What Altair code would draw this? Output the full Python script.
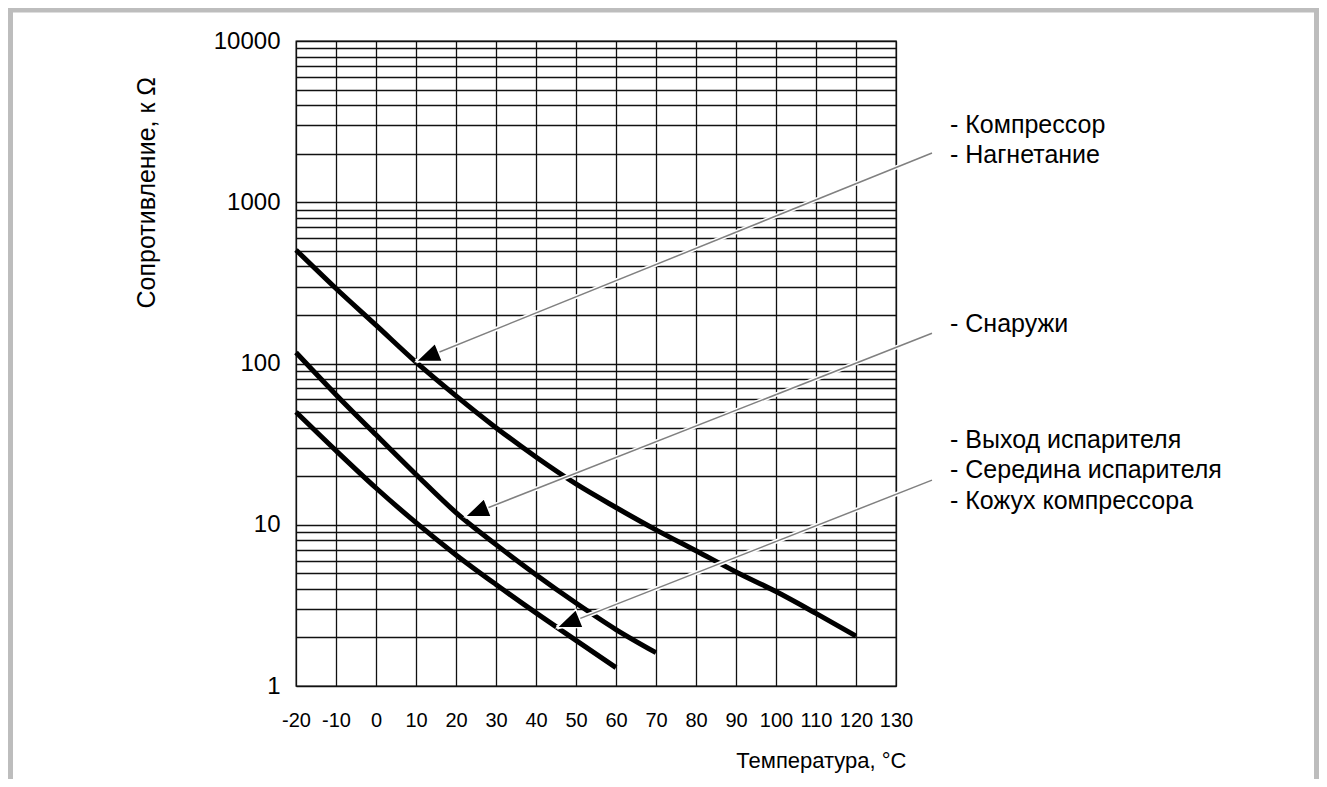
import altair as alt
import pandas as pd

# ---- data ----
temps_1 = [-20, -10, 0, 10, 20, 30, 40, 50, 60, 70, 80, 90, 100, 110, 120]
res_1 = [506, 292, 173, 102, 63, 40, 26.3, 17.9, 12.8, 9.3, 6.9, 5.1, 3.85, 2.82, 2.04]

temps_2 = [-20, -10, 0, 10, 20, 30, 40, 50, 60, 70]
res_2 = [117, 64.1, 36.1, 20.5, 11.9, 7.53, 4.9, 3.27, 2.24, 1.61]

temps_3 = [-20, -10, 0, 10, 20, 30, 40, 50, 60]
res_3 = [50, 28.8, 16.9, 10.3, 6.5, 4.26, 2.84, 1.92, 1.3]

x_ticks = [-20, -10, 0, 10, 20, 30, 40, 50, 60, 70, 80, 90, 100, 110, 120, 130]
y_grid = [1, 2, 3, 4, 5, 6, 7, 8, 9,
          10, 20, 30, 40, 50, 60, 70, 80, 90,
          100, 200, 300, 400, 500, 600, 700, 800, 900,
          1000, 2000, 3000, 4000, 5000, 6000, 7000, 8000, 9000,
          10000]
y_labels = [1, 10, 100, 1000, 10000]

# annotation arrows (tip on curve, tail near the labels)
arrow_tip_t = [10, 22.25, 45.2]
arrow_tip_r = [103, 11.2, 2.3]
arrow_tail_t = [139, 139, 139]
arrow_tail_r = [2020, 154, 18.9]

label_texts = ["- Компрессор", "- Нагнетание", "- Снаружи",
               "- Выход испарителя", "- Середина испарителя", "- Кожух компрессора"]
label_t = [143.5, 143.5, 143.5, 143.5, 143.5, 143.5]
label_r = [3013, 1963, 176, 33.5, 21.9, 14.0]

# ---- tables ----
curves = pd.concat([
    pd.DataFrame({"t": temps_1, "r": res_1, "s": "c1"}),
    pd.DataFrame({"t": temps_2, "r": res_2, "s": "c2"}),
    pd.DataFrame({"t": temps_3, "r": res_3, "s": "c3"}),
])
arrows = pd.DataFrame({"t": arrow_tip_t, "r": arrow_tip_r,
                       "t2": arrow_tail_t, "r2": arrow_tail_r})
labels = pd.DataFrame({"t": label_t, "r": label_r, "label": label_texts})

FONT = "Liberation Sans"

label_expr = "indexof(" + str(y_labels) + ", datum.value) >= 0 ? format(datum.value, 'd') : ''"

X = alt.X("t:Q",
          scale=alt.Scale(domain=[-20, 130], nice=False, zero=False),
          axis=alt.Axis(values=x_ticks, labelExpr="toString(datum.value)",
                        title="Температура, °C",
                        grid=True, labelFontSize=20,
                        labelBaseline="middle", labelPadding=34,
                        labelFlush=False, labelOverlap=False,
                        titleFontSize=22, titleAlign="right", titleBaseline="middle",
                        titleX=610, titleY=74))
Y = alt.Y("r:Q",
          scale=alt.Scale(type="log", domain=[1, 10000], nice=False),
          axis=alt.Axis(values=y_grid, labelExpr=label_expr,
                        title="Сопротивление, к Ω", grid=True,
                        labelFontSize=24, labelPadding=16, labelBaseline="middle",
                        labelFlush=False, labelOverlap=False, labelBound=False,
                        titleFontSize=25, titleAngle=270, titleAlign="left",
                        titleBaseline="middle", titleX=-150, titleY=267))

curve_layer = alt.Chart(curves).mark_line(
    color="black", strokeWidth=5, interpolate="monotone", strokeCap="butt"
).encode(x=X, y=Y, detail="s:N")

halo_layer = alt.Chart(arrows).mark_rule(color="white", strokeWidth=4.5).encode(
    x=X, y=Y, x2="t2:Q", y2="r2:Q")
arrow_line_layer = alt.Chart(arrows).mark_rule(color="#808080", strokeWidth=1.5).encode(
    x=X, y=Y, x2="t2:Q", y2="r2:Q")

head_layer = alt.Chart(arrows).mark_point(
    shape="M0,0L-0.8,2L0.8,2Z", size=600, filled=True, fill="black",
    stroke="white", strokeWidth=1.5, opacity=1, angle=248
).encode(x=X, y=Y)

text_layer = alt.Chart(labels).mark_text(
    align="left", baseline="middle", fontSize=25, font=FONT, color="black"
).encode(x=X, y=Y, text="label:N")

frame_layer = alt.Chart(pd.DataFrame({"k": [0]})).mark_rect(
    fillOpacity=0, stroke="#bdbdbd", strokeWidth=5
).encode(x=alt.value(-285.5), x2=alt.value(1020.5), y=alt.value(-31), y2=alt.value(760))

chart = alt.layer(
    curve_layer, halo_layer, arrow_line_layer, head_layer, text_layer, frame_layer
).properties(
    width=600, height=645,
    autosize=alt.AutoSizeParams(type="none"),
    padding={"left": 288, "top": 33, "right": 423, "bottom": 93},
    background="white",
).configure_view(
    stroke="#111111", strokeWidth=1.3
).configure_axis(
    gridColor="#111111", gridWidth=1.3, gridOpacity=1, domain=False, ticks=False,
    labelColor="black", titleColor="black", labelFont=FONT, titleFont=FONT,
    titleFontWeight="normal"
)

chart.save("out.html", embed_options={"renderer": "svg", "actions": False})
